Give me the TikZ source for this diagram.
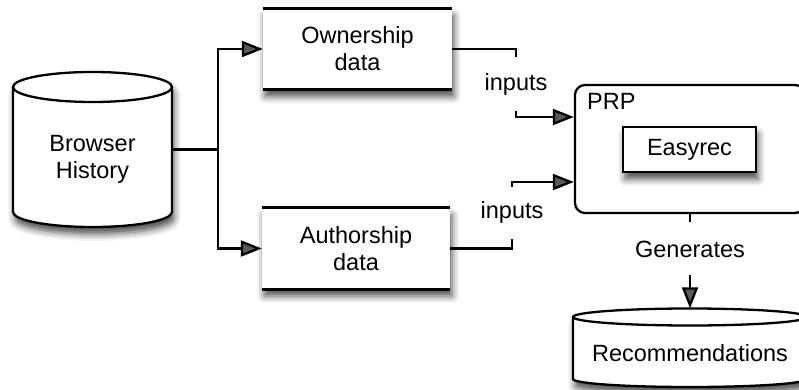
\documentclass[tikz,border=0pt]{standalone}
\usepackage{fontspec}
\setmainfont{Liberation Sans}
\usetikzlibrary{arrows.meta,shadows.blur}
\begin{document}
\begin{tikzpicture}[x=1pt,y=1pt,
  txt/.style={font=\fontsize{23.5}{27}\selectfont, align=center, inner sep=0pt},
  conn/.style={line width=2.3pt},
  arr/.style={conn, -{Triangle[length=21pt,width=16pt]}},
  edgeline/.style={line width=2.8pt},
  softshadow/.style={blur shadow={shadow xshift=2pt, shadow yshift=-7pt,
      shadow blur radius=7pt, shadow opacity=70}},
  databox/.style={txt, fill=white, softshadow, minimum width=#1, minimum height=81pt},
  tag/.style={txt, fill=white, inner xsep=3pt, minimum height=#1},
  anchorbox/.style={inner sep=0pt, minimum width=#1},
]
\useasboundingbox (0,0) rectangle (799,-390);
\clip (0,0) rectangle (799,-390);

% Browser History cylinder
\path[fill=white, softshadow] (13,-87) -- (13,-212)
  arc[start angle=180, end angle=360, x radius=79.5, y radius=15] -- (172,-87)
  arc[start angle=0, end angle=180, x radius=79.5, y radius=15] -- cycle;
\draw[conn] (13,-87) -- (13,-212)
  arc[start angle=180, end angle=360, x radius=79.5, y radius=15] -- (172,-87);
\draw[conn] (92.5,-87) ellipse[x radius=79.5, y radius=15];
\node[anchorbox=159pt, minimum height=155pt] (bh) at (92.5,-149.5) {};
\node[txt] (bhtxt) at (92.5,-159) {Browser\\History};

% Recommendations cylinder
\path[fill=white, softshadow] (573,-317) -- (573,-379)
  arc[start angle=180, end angle=360, x radius=117, y radius=8] -- (807,-317)
  arc[start angle=0, end angle=180, x radius=117, y radius=8.5] -- cycle;
\draw[conn] (573,-317) -- (573,-379)
  arc[start angle=180, end angle=360, x radius=117, y radius=8] -- (807,-317);
\draw[conn] (690,-317) ellipse[x radius=117, y radius=8.5];
\node[anchorbox=234pt, minimum height=78.5pt] (rec) at (690,-347.75) {};
\node[txt] (rectxt) at (690,-353) {Recommendations};

% data boxes (top and bottom rules only)
\node[databox=189pt] (own) at (357.5,-49) {Ownership\\data};
\draw[edgeline] (own.north west) -- (own.north east);
\draw[edgeline] (own.south west) -- (own.south east);
\node[databox=188pt] (aut) at (356,-248.5) {Authorship\\data};
\draw[edgeline] (aut.north west) -- (aut.north east);
\draw[edgeline] (aut.south west) -- (aut.south east);

% PRP container
\node[draw, line width=2.3pt, rounded corners=10pt, minimum width=230pt,
      minimum height=128pt, inner sep=0pt] (prp) at (690,-149) {};
\node[txt, anchor=west] (prplbl) at (587,-101) {PRP};
\node[txt, draw, line width=2.5pt, fill=white, softshadow, minimum width=133pt,
      minimum height=45pt] (easy) at (689.5,-149.5) {Easyrec};

% connectors
\draw[conn] (bh.east) -- ++(46,0) coordinate (split);
\draw[arr] (split) |- (own.west);
\draw[arr] (split) |- (aut.west);

\coordinate (c1) at (516,-117);
\draw[arr] (own.east) -| (c1) node[tag=54pt, pos=0.76] (in1) {inputs} -- (c1 -| prp.west);
\coordinate (c2) at (512,-182);
\draw[arr] (aut.east) -| (c2) node[tag=52pt, pos=0.77] (in2) {inputs} -- (c2 -| prp.west);

\draw[arr] (prp.south) -- node[tag=53pt, pos=0.37] (gen) {Generates} (rec.north);
\end{tikzpicture}
\end{document}
